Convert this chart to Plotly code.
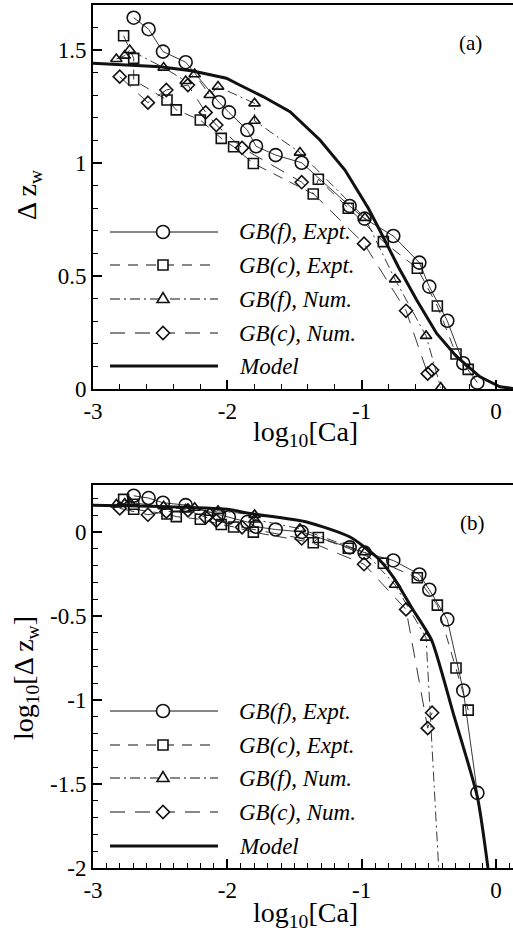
import numpy as np
import plotly.graph_objects as go

# ---------------- data ----------------
gbf_expt_x = [-2.697, -2.586, -2.479, -2.310, -2.062, -1.988, -1.851, -1.786, -1.640, -1.446,
              -1.089, -0.978, -0.764, -0.570, -0.496, -0.362, -0.243, -0.138]
gbf_expt_y = [1.643, 1.592, 1.493, 1.446, 1.269, 1.224, 1.146, 1.074, 1.035, 1.001,
              0.810, 0.754, 0.677, 0.559, 0.453, 0.302, 0.114, 0.028]

gbc_expt_x = [-2.772, -2.697, -2.697, -2.449, -2.380, -2.201, -2.045, -1.953, -1.806, -1.360,
              -1.322, -1.099, -0.838, -0.585, -0.436, -0.297, -0.206]
gbc_expt_y = [1.563, 1.463, 1.367, 1.279, 1.235, 1.190, 1.109, 1.072, 0.998, 0.863,
              0.928, 0.800, 0.652, 0.534, 0.367, 0.155, 0.087]

gbf_num_x = [-2.826, -2.764, -2.727, -2.474, -2.310, -2.243, -2.131, -2.069, -1.797, -1.797,
             -1.459, -0.975, -0.751, -0.520, -0.411]
gbf_num_y = [1.460, 1.475, 1.500, 1.422, 1.363, 1.393, 1.301, 1.338, 1.264, 1.187,
             1.046, 0.757, 0.485, 0.235, 0.006]

gbc_num_x = [-2.801, -2.591, -2.454, -2.293, -2.161, -2.082, -1.890, -1.446, -0.982, -0.669,
             -0.508, -0.475]
gbc_num_y = [1.382, 1.267, 1.323, 1.345, 1.224, 1.168, 1.067, 0.915, 0.643, 0.346,
             0.068, 0.084]

model_a_x = [-3.0, -2.5, -2.256, -2.007, -1.908, -1.734, -1.533, -1.310, -1.124, -0.950,
             -0.863, -0.727, -0.590, -0.441, -0.292, -0.118, 0.030, 0.13]
model_a_y = [1.441, 1.426, 1.407, 1.375, 1.345, 1.294, 1.227, 1.102, 0.969, 0.800,
             0.700, 0.541, 0.394, 0.246, 0.143, 0.054, 0.010, 0.002]

model_b_x = [-3.0, -2.5, -2.0, -1.831, -1.409, -1.086, -0.888, -0.764, -0.615, -0.478,
             -0.317, -0.138, -0.059]
model_b_logy = [0.159, 0.152, 0.135, 0.110, 0.060, -0.030, -0.149, -0.268, -0.466, -0.645,
                -1.081, -1.577, -2.0]

x_tick_vals = [-3, -2, -1, 0]
x_tick_text = ["-3", "-2", "-1", "0"]
ya_tick_vals = [0, 0.5, 1, 1.5]
ya_tick_text = ["0", "0.5", "1", "1.5"]
yb_tick_vals = [-2, -1.5, -1, -0.5, 0]
yb_tick_text = ["-2", "-1.5", "-1", "-0.5", "0"]

legend_labels = ["GB(f), Expt.", "GB(c), Expt.", "GB(f), Num.", "GB(c), Num.", "Model"]

# ---------------- styling ----------------
FONT = "Liberation Serif"
W, H = 513, 937
ML, MR, MT, MB = 93, 0, 5, 69
PW, PH = W - ML - MR, H - MT - MB


def fx(px):
    return (px - ML) / PW


def fy(py):
    return (H - MB - py) / PH


series = [
    dict(x=gbf_expt_x, y=gbf_expt_y, sym="circle", size=13, dash="solid"),
    dict(x=gbc_expt_x, y=gbc_expt_y, sym="square", size=10, dash="10px,8px"),
    dict(x=gbf_num_x, y=gbf_num_y, sym="triangle-up", size=10, dash="10px,4px,2px,4px"),
    dict(x=gbc_num_x, y=gbc_num_y, sym="diamond", size=10, dash="15px,10px"),
]

fig = go.Figure()
for s in series:
    fig.add_trace(go.Scatter(
        x=s["x"], y=s["y"], mode="lines+markers", xaxis="x", yaxis="y",
        line=dict(color="#222", width=0.9, dash=s["dash"]),
        marker=dict(symbol=s["sym"] + "-open", size=s["size"], color="#111",
                    line=dict(width=1.6, color="#111")),
        cliponaxis=False, showlegend=False))
fig.add_trace(go.Scatter(x=model_a_x, y=model_a_y, mode="lines", xaxis="x", yaxis="y",
                         line=dict(color="#111", width=3), showlegend=False))

for s in series:
    fig.add_trace(go.Scatter(
        x=s["x"], y=np.log10(np.array(s["y"])), mode="lines+markers", xaxis="x2", yaxis="y2",
        line=dict(color="#222", width=0.9, dash=s["dash"]),
        marker=dict(symbol=s["sym"] + "-open", size=s["size"], color="#111",
                    line=dict(width=1.6, color="#111")),
        cliponaxis=True, showlegend=False))
fig.add_trace(go.Scatter(x=model_b_x, y=model_b_logy, mode="lines", xaxis="x2", yaxis="y2",
                         line=dict(color="#111", width=3, shape="spline", smoothing=0.6),
                         showlegend=False))

tickfont = dict(family=FONT, size=23, color="black")


def xax(anchor, minor_dtick):
    return dict(domain=[0, 1], anchor=anchor, range=[-3, -3 + PW / 134.3],
                tickmode="array", tickvals=x_tick_vals, ticktext=x_tick_text,
                ticks="inside", ticklen=9, tickwidth=1.5, tickcolor="black",
                showline=True, linewidth=2, linecolor="black", mirror=True,
                showgrid=False, zeroline=False, tickfont=tickfont,
                minor=dict(tickmode="linear", tick0=-3, dtick=minor_dtick, ticks="inside",
                           ticklen=5, tickwidth=1, tickcolor="black", showgrid=False))


def yax(anchor, domain, rng, vals, text):
    return dict(domain=domain, anchor=anchor, range=rng,
                tickmode="array", tickvals=vals, ticktext=text,
                ticks="inside", ticklen=9, tickwidth=1.5, tickcolor="black",
                showline=True, linewidth=2, linecolor="black", mirror=False,
                showgrid=False, zeroline=False, tickfont=tickfont,
                minor=dict(tickmode="linear", tick0=0, dtick=0.1, ticks="inside",
                           ticklen=5, tickwidth=1, tickcolor="black", showgrid=False))


top_bottom_px, top_top_px = 389, 5
bot_bottom_px, bot_top_px = 868, 485
fig.update_layout(
    width=W, height=H, margin=dict(l=ML, r=MR, t=MT, b=MB),
    paper_bgcolor="white", plot_bgcolor="white", showlegend=False,
    xaxis=xax("y", 0.2),
    yaxis=yax("x", [fy(top_bottom_px), fy(top_top_px)], [0, (top_bottom_px - top_top_px) / 226.0],
              ya_tick_vals, ya_tick_text),
    xaxis2=xax("y2", 0.1),
    yaxis2=yax("x2", [fy(bot_bottom_px), fy(bot_top_px)], [-2, -2 + (bot_bottom_px - bot_top_px) / 168.0],
               yb_tick_vals, yb_tick_text),
)

annotations = []
shapes = []


def label(px, py, text, size, angle=0, anchor="center"):
    annotations.append(dict(x=fx(px), y=fy(py), xref="paper", yref="paper", text=text,
                            showarrow=False, textangle=angle, xanchor=anchor, yanchor="middle",
                            font=dict(family=FONT, size=size, color="black")))


label(470, 43, "(a)", 21)
label(472, 523, "(b)", 21)
label(305, 433, "log<sub>10</sub>[Ca]", 28)
label(305, 914, "log<sub>10</sub>[Ca]", 28)
label(28, 195, "Δ z<sub>w</sub>", 28, angle=-90)
label(25, 678, "log<sub>10</sub>[Δ z<sub>w</sub>]", 28, angle=-90)

legend_dash = [s["dash"] for s in series] + ["solid"]
legend_sym = [s["sym"] for s in series] + [None]
rows_a = [232, 265, 299, 333, 366]
rows_b = [711, 745, 778, 812, 846]


def marker_shape(sym, cx, cy):
    base = dict(xref="paper", yref="paper", xsizemode="pixel", ysizemode="pixel",
                xanchor=fx(cx), yanchor=fy(cy), line=dict(color="#111", width=1.6),
                fillcolor="white", layer="above")
    if sym == "circle":
        return dict(type="circle", x0=-6.5, x1=6.5, y0=-6.5, y1=6.5, **base)
    if sym == "square":
        return dict(type="rect", x0=-5, x1=5, y0=-5, y1=5, **base)
    if sym == "triangle-up":
        return dict(type="path", path="M-6,-3.5 L6,-3.5 L0,6.5 Z", **base)
    return dict(type="path", path="M-6.5,0 L0,6.5 L6.5,0 L0,-6.5 Z", **base)


for rows in (rows_a, rows_b):
    for i, py in enumerate(rows):
        width = 3 if legend_sym[i] is None else 1
        shapes.append(dict(type="line", xref="paper", yref="paper", x0=fx(110), x1=fx(218),
                           y0=fy(py), y1=fy(py), layer="above",
                           line=dict(color="#111", width=width, dash=legend_dash[i])))
        if legend_sym[i] is not None:
            shapes.append(marker_shape(legend_sym[i], 163, py))
        label(237, py, "<i>" + legend_labels[i] + "</i>", 23, anchor="left")

fig.update_layout(annotations=annotations, shapes=shapes)
fig.write_html("out.html")
